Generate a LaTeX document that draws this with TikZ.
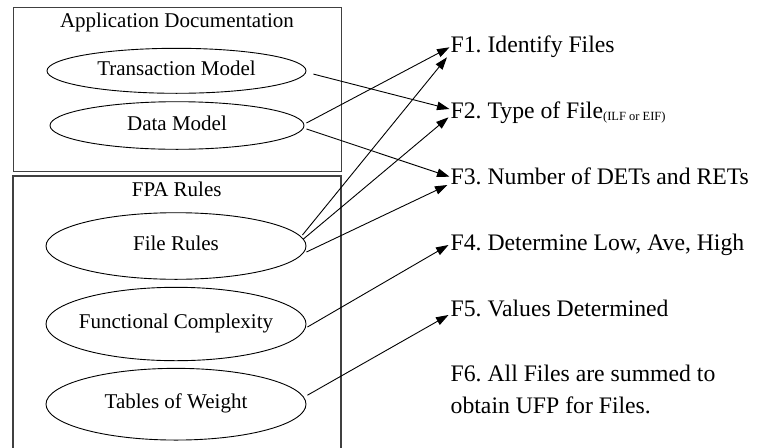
\documentclass[tikz,border=0pt]{standalone}
\usepackage{fontspec}
\setmainfont{Liberation Serif}
\usetikzlibrary{shapes.geometric,arrows.meta,calc}
\newcommand\ztext[1]{\makebox[0pt]{#1}}
\frenchspacing
\begin{document}
\begin{tikzpicture}[x=1pt,y=-1pt,
  ell/.style 2 args={ellipse,draw,line width=0.9pt,inner sep=0pt,minimum width=#1,minimum height=#2,text height=14.5pt,text depth=5.5pt,font=\fontsize{21}{25}\selectfont},
  ftext/.style={anchor=base west,inner sep=0pt,font=\fontsize{23.7}{31.3}\selectfont},
  ttext/.style={anchor=base,inner sep=0pt,font=\fontsize{21}{25}\selectfont},
  conn/.style={line width=0.9pt,-{Triangle[length=12.5pt,width=8.5pt]}},
  frame/.style={draw=black!75,line width=1.2pt}]
\useasboundingbox (0,0) rectangle (762,447);
% group frames
\node[frame,rectangle,anchor=north west,minimum width=328,minimum height=163.5,inner sep=0pt] (appbox) at (13,7) {};
\draw[frame] (13,450) -- (13,176) -- (341,176) -- (341,450);
\node[ttext] (appt) at (177,27.3) {Application Documentation};
\node[ttext] (fpat) at (176.7,196.7) {FPA Rules};
% ellipses
\node[ell={259}{45}] (tm) at (176.5,70.8) {\ztext{Transaction Model}};
\node[ell={254}{47.6}] (dm) at (177,125.5) {\ztext{Data Model}};
\node[ell={260}{66.6}] (fr) at (176,246) {\ztext{File Rules}};
\node[ell={260}{73.4}] (fc) at (176,324) {\ztext{Functional Complexity}};
\node[ell={260}{71.7}] (tw) at (176,404.2) {\ztext{Tables of Weight}};
% steps
\node[ftext] (f1) at (450.5,52.7) {F1. Identify Files};
\node[ftext] (f2) at (450.5,118.5) {F2. Type of File\raisebox{-1.5pt}{\fontsize{12.5}{14}\selectfont(ILF or EIF)}};
\node[ftext] (f3) at (450.5,184) {F3. Number of DETs and RETs};
\node[ftext] (f4) at (450.5,250) {F4. Determine Low, Ave, High};
\node[ftext] (f5) at (450.5,316) {F5. Values Determined};
\node[ftext,align=left] (f6) at (450.5,413) {F6. All Files are summed to\\obtain UFP for Files.};
% connectors
\draw[conn] ($(tm.east)+(7,3.3)$) -- ($(f2.base west)+(-1,-9.5)$);
\draw[conn] ($(dm.east)+(2,-2.5)$) -- ($(f1.base west)+(-1,-5.4)$);
\draw[conn] ($(dm.east)+(2,3.5)$) -- ($(f3.base west)+(-1,-7.3)$);
\draw[conn] ($(fr.east)+(-4,-11)$) -- ($(f1.base west)+(-3.5,4.6)$);
\draw[conn] ($(fr.east)+(-3,-7)$) -- ($(f2.base west)+(-2,-1.2)$);
\draw[conn] ($(fr.east)+(0,6)$) -- ($(f3.base west)+(-3,1)$);
\draw[conn] ($(fc.east)+(1,3)$) -- ($(f4.base west)+(-2,-5)$);
\draw[conn] ($(tw.east)+(1,-9)$) -- ($(f5.base west)+(-2,-1)$);
\end{tikzpicture}
\end{document}
